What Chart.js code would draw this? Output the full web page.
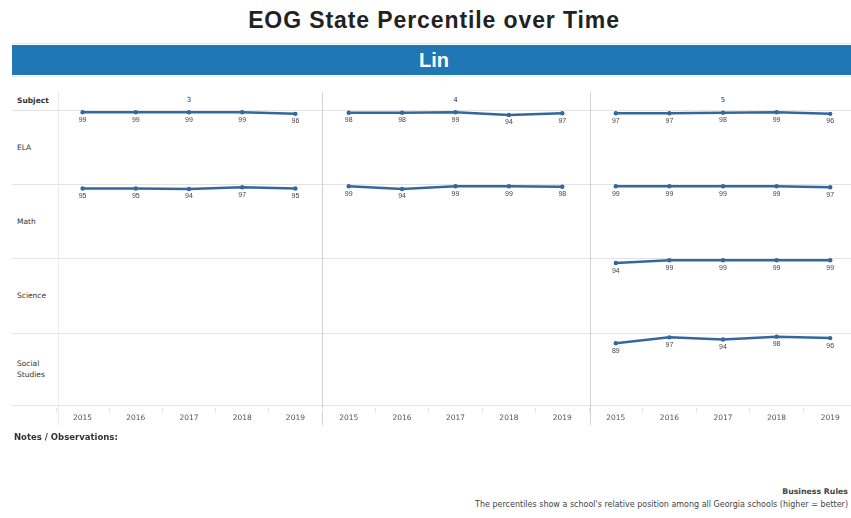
<!DOCTYPE html>
<html>
<head>
<meta charset="utf-8">
<script src="https://cdn.jsdelivr.net/npm/chart.js@4/dist/chart.umd.min.js"></script>
<style>
  html, body { margin: 0; padding: 0; }
  body {
    width: 851px; height: 518px; overflow: hidden; position: relative;
    background: #fff; font-family: 'Liberation Sans', Arial, sans-serif; color: #222;
  }
  .abs { position: absolute; }
  .title { left: 12px; width: 844px; top: 7px; text-align: center; font-size: 23px; font-weight: bold;
           color: #222; letter-spacing: 0.9px; }
  .band { left: 12px; width: 844px; top: 45px; height: 30px; background: #1f77b4;
          color: #fff; font-weight: bold; font-size: 20px; line-height: 30px; text-align: center; }
  .hline { height: 1px; background: #e4e4e4; }
  .vline { width: 1px; }
  .small { font-family: 'DejaVu Sans', sans-serif; font-size: 7px; color: #333; }
  canvas { position: absolute; }
</style>
</head>
<body>
<div class="abs title">EOG State Percentile over Time</div>
<div class="abs hline" style="left:12px;width:844px;top:43px;background:#e8e8e8"></div>
<div class="abs band">Lin</div>
<div class="abs hline" style="left:12px;width:844px;top:76px;background:#ececec"></div>
<div id="grid"></div>
<script>
// Axis categories and panel labels
const years = ['2015', '2016', '2017', '2018', '2019'];
const grades = ['3', '4', '5'];
const subjects = ['ELA', 'Math', 'Science', 'Social Studies'];

// State percentile by subject and grade (null = not tested)
const elaGrade3 = [99, 99, 99, 99, 96];
const elaGrade4 = [98, 98, 99, 94, 97];
const elaGrade5 = [97, 97, 98, 99, 96];
const mathGrade3 = [95, 95, 94, 97, 95];
const mathGrade4 = [99, 94, 99, 99, 98];
const mathGrade5 = [99, 99, 99, 99, 97];
const scienceGrade3 = [null, null, null, null, null];
const scienceGrade4 = [null, null, null, null, null];
const scienceGrade5 = [94, 99, 99, 99, 99];
const socialGrade3 = [null, null, null, null, null];
const socialGrade4 = [null, null, null, null, null];
const socialGrade5 = [89, 97, 94, 98, 96];

const seriesBySubject = [
  [elaGrade3, elaGrade4, elaGrade5],
  [mathGrade3, mathGrade4, mathGrade5],
  [scienceGrade3, scienceGrade4, scienceGrade5],
  [socialGrade3, socialGrade4, socialGrade5]
];

// Table geometry
const ruleCols = [58, 322, 590];
const plotCols = [56, 322, 589, 857];
const rowEdges = [110, 184, 258, 333, 405];
const axisBand = 20;
const lineColor = '#34679f';
const pointR = 2.2;
// Chart.js reserves room for the largest (hover) point radius around the plot area;
// the canvas is grown by that amount so the plot area lands on the table cell.
const hoverR = 3;
const root = document.getElementById('grid');

function addDiv(cls, style, text) {
  const d = document.createElement('div');
  d.className = 'abs ' + cls;
  d.setAttribute('style', style);
  if (text !== undefined) d.innerHTML = text;
  root.appendChild(d);
  return d;
}

// Row rules
rowEdges.forEach(y => addDiv('hline', `left:12px;width:844px;top:${y}px;`));
// Column rules
addDiv('vline', `left:${ruleCols[0]}px;top:92px;height:333px;background:#ebebeb;`);
addDiv('vline', `left:${ruleCols[1]}px;top:92px;height:333px;background:#d2d2d2;`);
addDiv('vline', `left:${ruleCols[2]}px;top:92px;height:333px;background:#d2d2d2;`);

// Header row
addDiv('small', 'left:17px;top:96px;font-weight:bold;font-size:7.5px;', 'Subject');
grades.forEach((g, c) => {
  addDiv('small', `left:${plotCols[c]}px;width:${plotCols[c + 1] - plotCols[c]}px;top:96px;text-align:center;`, g);
});

// Row headers
subjects.forEach((s, r) => {
  const mid = (rowEdges[r] + rowEdges[r + 1]) / 2;
  const words = s.split(' ');
  const h = words.length * 11;
  addDiv('small', `left:17px;top:${mid - h / 2}px;line-height:11px;font-size:7.5px;`, words.join('<br>'));
});

// Value labels under each point
const valueLabels = {
  id: 'valueLabels',
  afterDatasetsDraw(chart) {
    const ctx = chart.ctx;
    chart.data.datasets.forEach((ds, i) => {
      const meta = chart.getDatasetMeta(i);
      meta.data.forEach((pt, j) => {
        const v = ds.data[j];
        if (v === null || v === undefined) return;
        ctx.save();
        ctx.font = '7px "Liberation Sans", Arial, sans-serif';
        ctx.fillStyle = '#444';
        ctx.textAlign = 'center';
        ctx.textBaseline = 'middle';
        ctx.fillText(String(v), pt.x, pt.y + 7.5);
        ctx.restore();
      });
    });
  }
};

subjects.forEach((s, r) => {
  grades.forEach((g, c) => {
    const bottom = r === subjects.length - 1;
    const w = plotCols[c + 1] - plotCols[c] + 2 * hoverR;
    const h = rowEdges[r + 1] - rowEdges[r] + (bottom ? axisBand : 0) + 2 * hoverR;
    const cv = document.createElement('canvas');
    cv.width = w; cv.height = h;
    cv.style.left = (plotCols[c] - hoverR) + 'px';
    cv.style.top = (rowEdges[r] - hoverR) + 'px';
    cv.style.width = w + 'px';
    cv.style.height = h + 'px';
    root.appendChild(cv);
    new Chart(cv, {
      type: 'line',
      data: {
        labels: years,
        datasets: [{
          label: s + ' grade ' + g,
          data: seriesBySubject[r][c],
          borderColor: lineColor,
          backgroundColor: lineColor,
          borderWidth: 2.5,
          pointRadius: pointR,
          pointHoverRadius: hoverR,
          pointBorderWidth: 0,
          pointHoverBorderWidth: 0,
          tension: 0,
          clip: false
        }]
      },
      options: {
        responsive: false,
        animation: false,
        devicePixelRatio: 1,
        layout: { padding: 0 },
        plugins: { legend: { display: false }, tooltip: { enabled: false }, title: { display: false } },
        events: [],
        scales: {
          x: {
            type: 'category',
            offset: true,
            display: bottom,
            border: { display: false },
            grid: { display: true, drawOnChartArea: false, offset: true, tickLength: 5, color: '#e6e6e6' },
            ticks: { color: '#555', font: { size: 7.5, family: '"DejaVu Sans", sans-serif' }, padding: 1, maxRotation: 0 },
            afterFit(scale) { scale.height = axisBand; }
          },
          y: { display: false, min: 0, max: 103 }
        }
      },
      plugins: [valueLabels]
    });
  });
});

// Notes and footer
addDiv('small', 'left:14px;top:432px;font-size:8.5px;font-weight:bold;color:#333;', 'Notes / Observations:');
addDiv('small', 'right:3px;top:487px;font-size:7.8px;font-weight:bold;color:#444;text-align:right;', 'Business Rules');
addDiv('small', 'right:3px;top:500px;font-size:8px;color:#444;text-align:right;white-space:nowrap;',
  'The percentiles show a school\'s relative position among all Georgia schools (higher = better)');
</script>
</body>
</html>
